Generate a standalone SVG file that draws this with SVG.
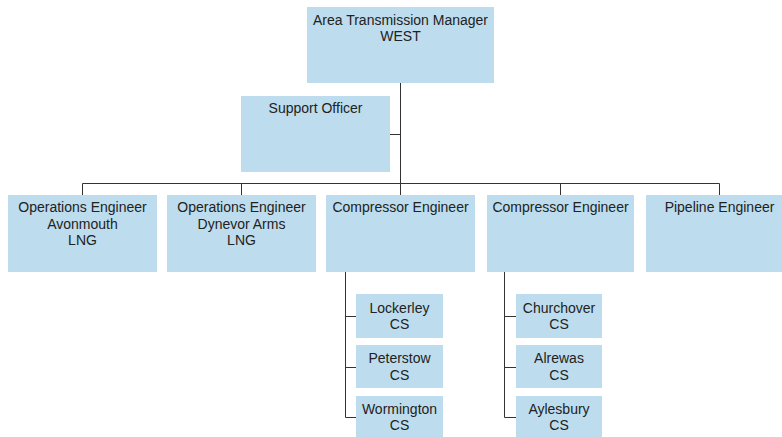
<svg xmlns="http://www.w3.org/2000/svg" width="782" height="437" viewBox="0 0 782 437">
  <style>
    .box { fill: #BDDCED; }
    .lbl { font-family: "Liberation Sans", Arial, sans-serif; font-size: 14px; fill: #222; text-anchor: middle; }
    .wire { stroke: #333; stroke-width: 1; fill: none; }
  </style>
  <rect width="782" height="437" fill="#fff"/>

  <!-- connectors -->
  <g id="connectors">
    <path class="wire" d="M400.5 83 V183.5"/>
    <path class="wire" d="M390 134.5 H400.5"/>
    <path class="wire" d="M82.5 195 V183.5 H719.5 V195"/>
    <path class="wire" d="M241.5 183.5 V195"/>
    <path class="wire" d="M560.5 183.5 V195"/>
    <path class="wire" d="M400.5 183.5 V195"/>
    <path class="wire" d="M345.5 272 V417.5 H356"/>
    <path class="wire" d="M345.5 316.5 H356"/>
    <path class="wire" d="M345.5 367.5 H356"/>
    <path class="wire" d="M504.5 272 V417.5 H516"/>
    <path class="wire" d="M504.5 316.5 H516"/>
    <path class="wire" d="M504.5 367.5 H516"/>
  </g>

  <g id="manager">
    <rect class="box" x="307" y="7" width="187" height="76"/>
    <text class="lbl" x="400.5" y="25">Area Transmission Manager</text>
    <text class="lbl" x="400.5" y="41">WEST</text>
  </g>

  <g id="support">
    <rect class="box" x="241" y="96" width="149" height="76"/>
    <text class="lbl" x="315.5" y="113">Support Officer</text>
  </g>

  <g id="ops-avonmouth">
    <rect class="box" x="8" y="195" width="149" height="77"/>
    <text class="lbl" x="82.5" y="212">Operations Engineer</text>
    <text class="lbl" x="82.5" y="229">Avonmouth</text>
    <text class="lbl" x="82.5" y="245">LNG</text>
  </g>

  <g id="ops-dynevor">
    <rect class="box" x="167" y="195" width="149" height="77"/>
    <text class="lbl" x="241.5" y="212">Operations Engineer</text>
    <text class="lbl" x="241.5" y="229">Dynevor Arms</text>
    <text class="lbl" x="241.5" y="245">LNG</text>
  </g>

  <g id="compressor-1">
    <rect class="box" x="326" y="195" width="149" height="77"/>
    <text class="lbl" x="400.5" y="212">Compressor Engineer</text>
  </g>

  <g id="compressor-2">
    <rect class="box" x="487" y="195" width="147" height="77"/>
    <text class="lbl" x="560.5" y="212">Compressor Engineer</text>
  </g>

  <g id="pipeline">
    <rect class="box" x="646" y="195" width="147" height="77"/>
    <text class="lbl" x="719.5" y="212">Pipeline Engineer</text>
  </g>

  <g id="lockerley">
    <rect class="box" x="356" y="294" width="87" height="44"/>
    <text class="lbl" x="399.5" y="313">Lockerley</text>
    <text class="lbl" x="399.5" y="329">CS</text>
  </g>

  <g id="peterstow">
    <rect class="box" x="356" y="345" width="87" height="43"/>
    <text class="lbl" x="399.5" y="363">Peterstow</text>
    <text class="lbl" x="399.5" y="380">CS</text>
  </g>

  <g id="wormington">
    <rect class="box" x="356" y="396" width="87" height="43"/>
    <text class="lbl" x="399.5" y="414">Wormington</text>
    <text class="lbl" x="399.5" y="430">CS</text>
  </g>

  <g id="churchover">
    <rect class="box" x="516" y="294" width="86" height="44"/>
    <text class="lbl" x="559" y="313">Churchover</text>
    <text class="lbl" x="559" y="329">CS</text>
  </g>

  <g id="alrewas">
    <rect class="box" x="516" y="345" width="86" height="43"/>
    <text class="lbl" x="559" y="363">Alrewas</text>
    <text class="lbl" x="559" y="380">CS</text>
  </g>

  <g id="aylesbury">
    <rect class="box" x="516" y="396" width="86" height="43"/>
    <text class="lbl" x="559" y="414">Aylesbury</text>
    <text class="lbl" x="559" y="430">CS</text>
  </g>
</svg>
